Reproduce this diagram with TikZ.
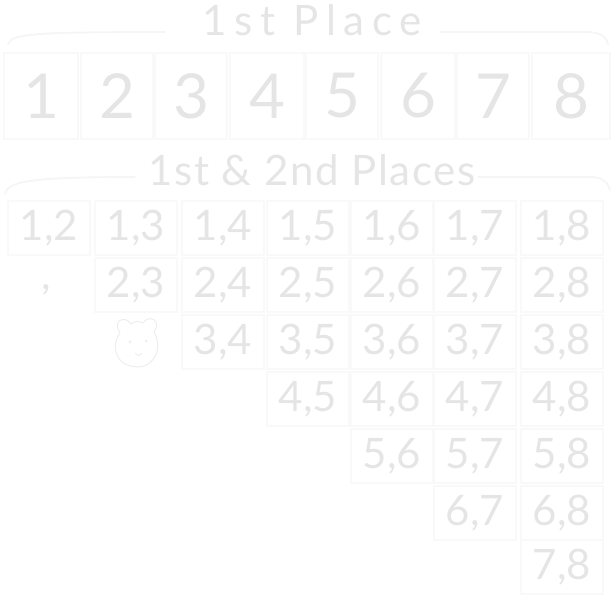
\documentclass[tikz,border=0pt]{standalone}
\usepackage{fontspec}
\setmainfont{Lato}
\begin{document}
\begin{tikzpicture}[x=1pt,y=-1pt,
  ink/.style={text=gray!20},
  boxline/.style={draw=gray!5, line width=1.6pt},
  placebox/.style={boxline, minimum width=72pt, minimum height=86pt, inner sep=0pt, ink, font=\fontsize{62}{62}\selectfont},
  pairbox/.style={boxline, minimum width=82pt, minimum height=54pt, inner sep=0pt, ink, font=\fontsize{42}{42}\selectfont},
  title/.style={ink, inner sep=0pt, font=\fontsize{42}{42}\selectfont},
  bracket/.style={draw=gray!8, line width=1.8pt, line cap=round}]
\useasboundingbox (0,0) rectangle (616,601);
% first title and bracket
\node[title] (t1) at (312,20) {\addfontfeature{LetterSpace=18}1st Place};
\coordinate (b1a) at (8,44);
\coordinate (b1b) at (165,32);
\coordinate (b1c) at (440,32);
\coordinate (b1d) at (608,44);
\draw[bracket] (b1a) .. controls (12,34) and (30,32) .. (b1b);
\draw[bracket] (b1c) -- (585,32) .. controls (600,32) and (606,36) .. (b1d);
% first place boxes
\foreach \n/\cx/\w in {1/41/74,2/117/72,3/191/72,4/267/74,5/342/72,6/418/74,7/493/72,8/571/78}
  \node[placebox, minimum width=\w pt] (p\n) at (\cx,96) {\n};
% second title and bracket
\node[title] (t2) at (312,170) {\addfontfeature{LetterSpace=4}1st \& 2nd Places};
\coordinate (b2a) at (5,194);
\coordinate (b2b) at (135,177);
\coordinate (b2c) at (478,177);
\coordinate (b2d) at (610,190);
\draw[bracket] (b2a) .. controls (8,182) and (25,177) .. (b2b);
\draw[bracket] (b2c) -- (590,177) .. controls (602,177) and (608,182) .. (b2d);
% pairs grid
\foreach \i/\cy in {1/228,2/285,3/342,4/399,5/456,6/513,7/567}{
  \foreach \j/\cx in {1/49,2/136,3/223,4/308,5/392,6/475,7/562}{
    \pgfmathtruncatemacro{\a}{\i}
    \pgfmathtruncatemacro{\b}{\j+1}
    \ifnum\j<\i\relax\else
      \node[pairbox] (q\a\b) at (\cx,\cy) {\a,\b};
    \fi
  }
}
% stray comma
\node[ink, font=\fontsize{42}{42}\selectfont, inner sep=0pt] (comma) at (46,290) {,};
% bear doodle
\begin{scope}[draw=gray!14, line width=1pt]
  \draw (120,333) .. controls (112,322) and (124,314) .. (131,324);
  \draw (143,323) .. controls (150,313) and (162,322) .. (154,332);
  \draw (131,324) .. controls (135,321) and (139,321) .. (143,323);
  \draw (120,333) .. controls (110,347) and (116,366) .. (137,367) .. controls (155,367) and (163,348) .. (154,332);
  \fill[gray!14] (130,342) circle (1.5pt) (146,341) circle (1.5pt);
  \draw (135,353) .. controls (137,356) and (140,356) .. (142,353);
\end{scope}
\end{tikzpicture}
\end{document}
